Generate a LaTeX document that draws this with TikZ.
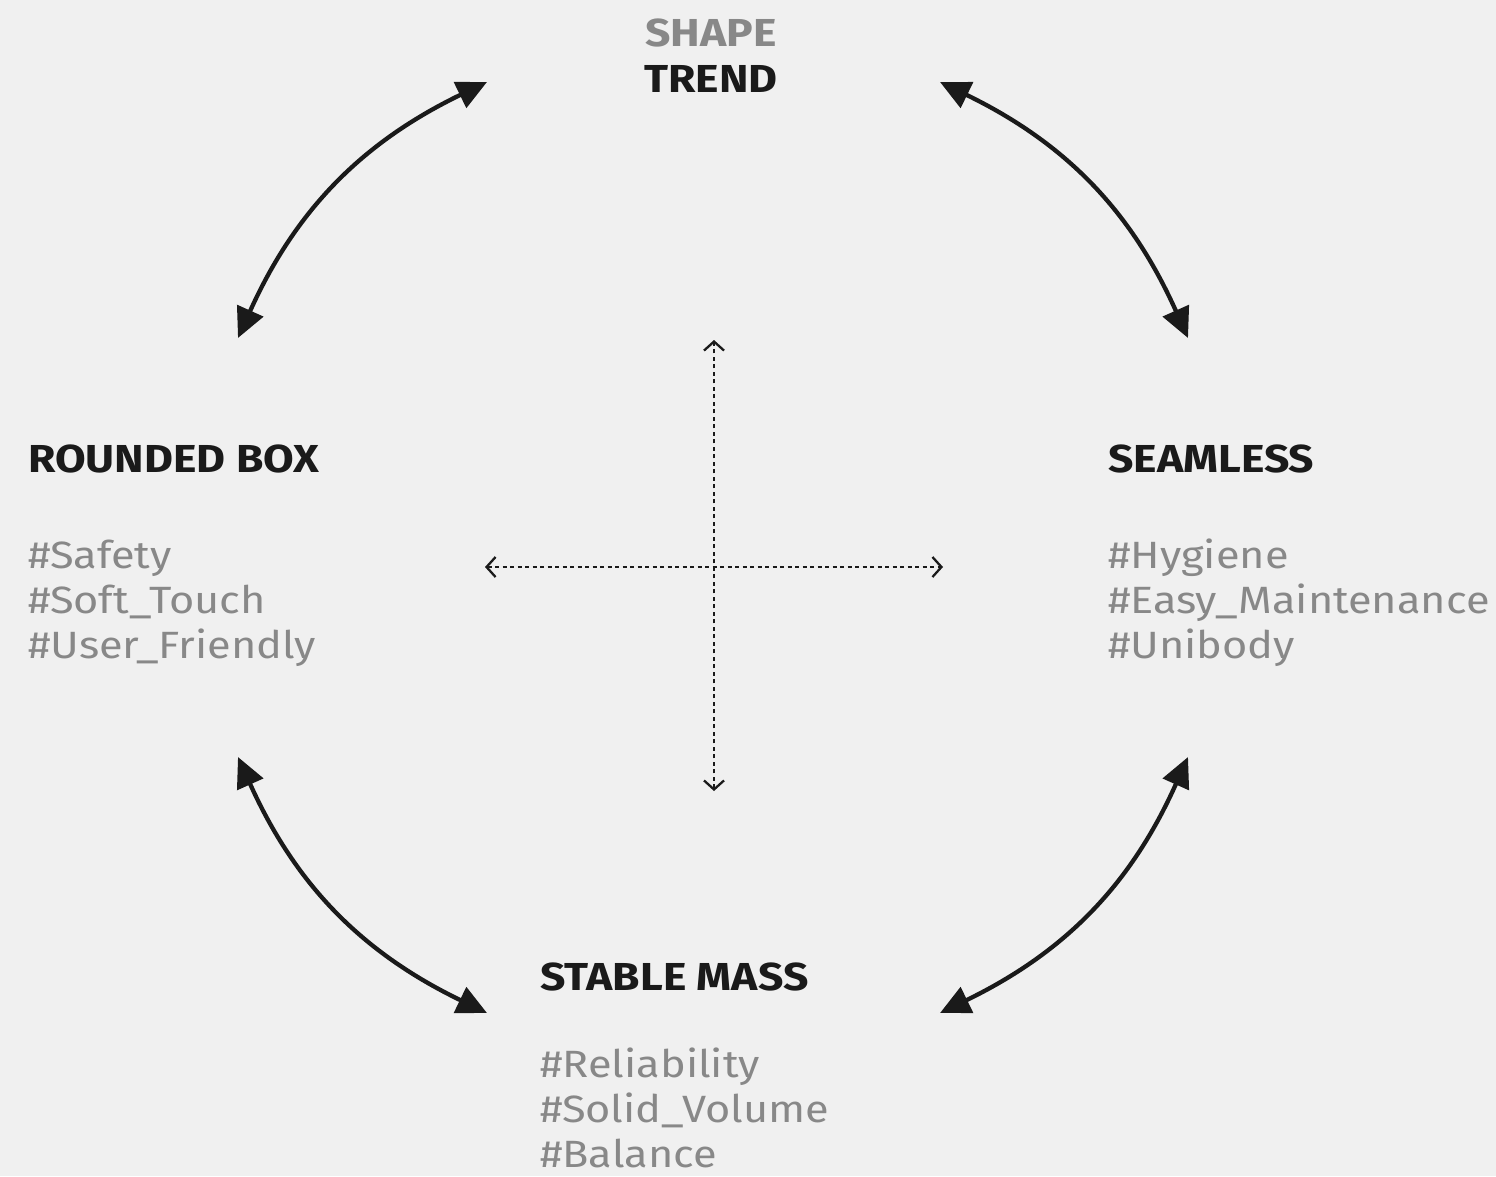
\documentclass[tikz,border=0pt]{standalone}
\usepackage{fontspec}
\setmainfont[FakeStretch=1.14]{Fira Sans}
\usetikzlibrary{arrows.meta}
\definecolor{bg}{HTML}{F0F0F0}
\definecolor{ink}{HTML}{1A1A1A}
\definecolor{tag}{HTML}{888888}
\begin{document}
\begin{tikzpicture}[x=1pt,y=-1pt,
  title/.style={anchor=base west,inner sep=0pt,text=ink,font=\fontsize{39}{45}\selectfont\bfseries},
  hashtag/.style={anchor=base west,inner sep=0pt,text=tag,font=\fontsize{38}{45}\selectfont},
  bigarrow/.style={draw=ink,line width=4.3pt,{Triangle[length=30pt,width=28pt]}-{Triangle[length=30pt,width=28pt]}},
  axis/.style={draw=ink,line width=2.3pt,dash pattern=on 4pt off 3.5pt,{Straight Barb[length=9pt,width=20pt,line width=2.3pt]}-{Straight Barb[length=9pt,width=20pt,line width=2.3pt]}}]
\fill[bg] (0,0) rectangle (1496,1176);
\useasboundingbox (0,0) rectangle (1496,1176);
% header
\node[anchor=base,inner sep=0pt,text=tag,font=\fontsize{39}{45}\selectfont\bfseries] (shape) at (711,46) {SHAPE};
\node[anchor=base,inner sep=0pt,text=ink,font=\fontsize{39}{45}\selectfont\bfseries] (trend) at (711,92) {TREND};
% left
\node[title] (rb) at (28,472) {ROUNDED BOX};
\node[hashtag] (rb1) at (28,568) {\#Safety};
\node[hashtag] (rb2) at (28,613) {\#Soft\_Touch};
\node[hashtag] (rb3) at (28,658) {\#User\_Friendly};
% right
\node[title] (sl) at (1108,472) {SEAMLESS};
\node[hashtag] (sl1) at (1108,568) {\#Hygiene};
\node[hashtag] (sl2) at (1108,613) {\#Easy\_Maintenance};
\node[hashtag] (sl3) at (1108,658) {\#Unibody};
% bottom
\node[title] (sm) at (540,990) {STABLE MASS};
\node[hashtag] (sm1) at (540,1077) {\#Reliability};
\node[hashtag] (sm2) at (540,1122) {\#Solid\_Volume};
\node[hashtag] (sm3) at (540,1167) {\#Balance};
% arc end points
\coordinate (tl) at (487,82);
\coordinate (lt) at (238,338);
\coordinate (tr) at (940,82);
\coordinate (rt) at (1188,338);
\coordinate (lb) at (238,757);
\coordinate (bl) at (487,1013);
\coordinate (rbc) at (1188,757);
\coordinate (br) at (940,1013);
\draw[bigarrow] (lt) to[bend left=20] (tl);
\draw[bigarrow] (tr) to[bend left=20] (rt);
\draw[bigarrow] (rbc) to[bend left=20] (br);
\draw[bigarrow] (bl) to[bend left=20] (lb);
% dotted cross
\coordinate (up) at (714,340);
\coordinate (down) at (714,791);
\coordinate (left) at (485,567);
\coordinate (right) at (943,567);
\draw[axis] (down) -- (up);
\draw[axis] (left) -- (right);
\end{tikzpicture}
\end{document}
